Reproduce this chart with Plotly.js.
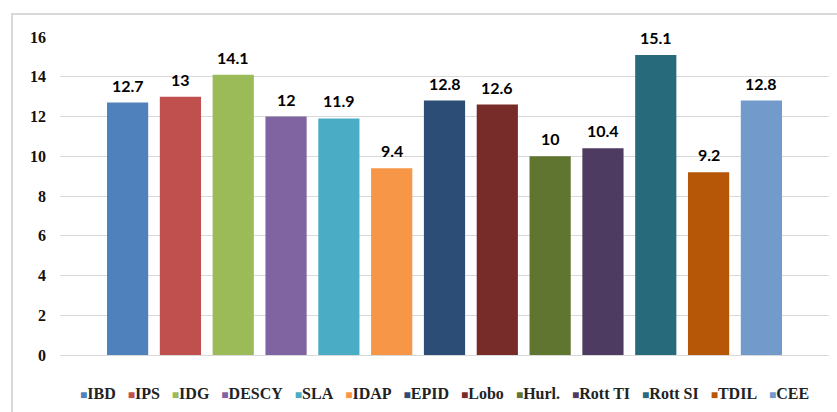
<!DOCTYPE html>
<html>
<head>
<meta charset="utf-8">
<script src="https://cdn.plot.ly/plotly-3.0.1.min.js"></script>
<style>
html,body{margin:0;padding:0;width:837px;height:412px;overflow:hidden;background:#fff;}
#frame{position:absolute;left:11px;top:13px;width:900px;height:500px;border:2px solid #d9d9d9;box-sizing:border-box;}
#chart{position:absolute;left:0;top:0;width:837px;height:412px;}
#chart .ytick text{font-family:'Liberation Serif',serif !important;font-weight:700 !important;}
</style>
</head>
<body>
<div id="frame"></div>
<div id="chart"></div>
<script>
const categories = ["IBD","IPS","IDG","DESCY","SLA","IDAP","EPID","Lobo","Hurl.","Rott TI","Rott SI","TDIL","CEE"];
const values = [12.7,13,14.1,12,11.9,9.4,12.8,12.6,10,10.4,15.1,9.2,12.8];
const colors = ["#4F81BD","#C0504D","#9BBB59","#8064A2","#4BACC6","#F79646","#2C4D75","#772C2A","#5F7530","#4D3B62","#276A7C","#B65708","#729ACA"];
const yTicks = [0,2,4,6,8,10,12,14,16];

const SERIF = 'Liberation Serif';

const traces = categories.map((c,i)=>({
  type:'bar', name:c, x:[i], y:[values[i]],
  marker:{color:colors[i]}, width:0.78, hoverinfo:'y', showlegend:false
}));

const labelAnn = categories.map((c,i)=>({
  x:i, y:values[i], xref:'x', yref:'y', text:String(values[i]),
  showarrow:false, yanchor:'bottom', yshift:6,
  font:{family:'Lato', size:16, color:'#000', weight:700}
}));

const legendText = categories.map((c,i)=>
  '<span style="color:'+colors[i]+';font-size:12px">■</span>'+c).join('&nbsp;&nbsp;&nbsp;');

const plotH = 412-37-57;
const legendAnn = {
  x:0.5, y:(355-393)/plotH, xref:'paper', yref:'paper', showarrow:false,
  text:legendText, xanchor:'center', yanchor:'middle',
  font:{family:SERIF, size:16, color:'#222', weight:700}
};

const layout = {
  width:837, height:412,
  font:{family:SERIF, size:16, color:'#111', weight:700},
  margin:{l:60, r:8, t:37, b:57},
  paper_bgcolor:'rgba(0,0,0,0)', plot_bgcolor:'rgba(0,0,0,0)',
  barmode:'overlay',
  xaxis:{range:[-1.28,13.28], showticklabels:false, showgrid:false, zeroline:false, showline:false, ticks:''},
  yaxis:{range:[0,16], tickvals:yTicks, ticktext:yTicks.map(String), showgrid:true, gridcolor:'#d9d9d9', gridwidth:1,
         zeroline:true, zerolinecolor:'#d9d9d9', zerolinewidth:1, showline:false, ticks:'', ticklabelstandoff:13,
         tickfont:{family:SERIF, size:16, color:'#111', weight:700}},
  annotations:labelAnn.concat([legendAnn]),
  showlegend:false
};
Plotly.newPlot('chart', traces, layout, {staticPlot:true});
</script>
</body>
</html>
